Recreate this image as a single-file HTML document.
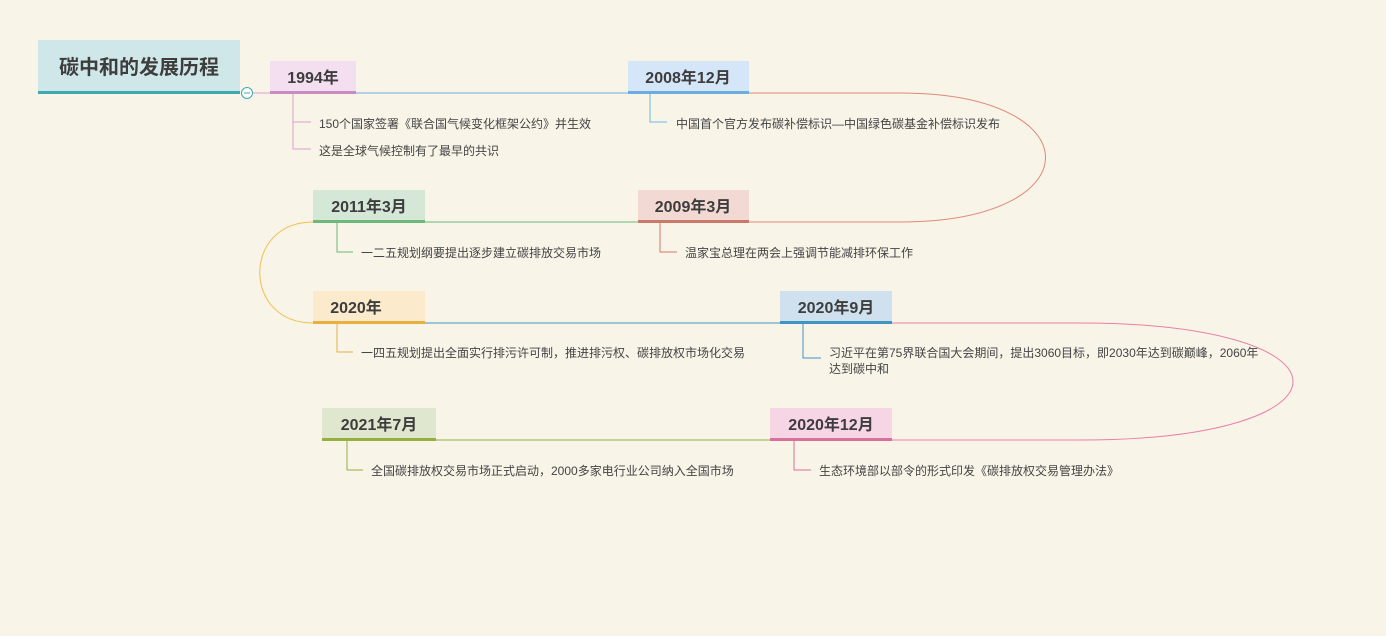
<!DOCTYPE html>
<html><head><meta charset="utf-8"><style>
html,body{margin:0;padding:0;background:#f8f4e8;}
svg{display:block}
text{font-family:"Liberation Sans","Noto Sans CJK SC",sans-serif;fill:#3d3d3d}
.h{font-size:16px;font-weight:bold;text-anchor:middle}
.c{font-size:12px;fill:#444}
</style></head><body>
<svg width="1386" height="636" viewBox="0 0 1386 636" xmlns="http://www.w3.org/2000/svg">
<rect width="1386" height="636" fill="#f8f4e8"/>
<rect x="38" y="40" width="202" height="53" fill="#d0e7ea"/>
<rect x="38" y="91" width="202" height="3" fill="#3fa9b0"/>
<text x="139" y="74" style="font-size:20px;font-weight:bold;text-anchor:middle">碳中和的发展历程</text>
<line x1="252" y1="93" x2="270" y2="93" stroke="#d9a0d0" stroke-width="1"/>
<circle cx="247" cy="93" r="5.5" fill="#fff" stroke="#3fa9b0" stroke-width="1"/>
<line x1="244" y1="93" x2="250" y2="93" stroke="#3fa9b0" stroke-width="1"/>
<line x1="356" y1="93" x2="628" y2="93" stroke="#6aaee0"/>
<path d="M749 93 H900 C1094 93 1094 222 900 222 H749" fill="none" stroke="#e08a78"/>
<line x1="425" y1="222" x2="638" y2="222" stroke="#6db97a"/>
<path d="M313 222 C242 222 242 323 313 323" fill="none" stroke="#f0c050"/>
<line x1="425" y1="323" x2="780" y2="323" stroke="#3f95c0"/>
<path d="M892 323 H1080 C1364 323 1364 440 1080 440 H892" fill="none" stroke="#e880a8"/>
<line x1="436" y1="440" x2="770" y2="440" stroke="#95b040"/>
<rect x="270" y="61" width="86" height="33" fill="#f3dff0"/><rect x="270" y="91" width="86" height="3" fill="#c98bc0"/>
<text class="h" x="313" y="83">1994年</text>
<rect x="628" y="61" width="121" height="33" fill="#d4e6f8"/><rect x="628" y="91" width="121" height="3" fill="#6aaee0"/>
<text class="h" x="688" y="83">2008年12月</text>
<rect x="638" y="190" width="111" height="33" fill="#f2d9d4"/><rect x="638" y="220" width="111" height="3" fill="#c9796a"/>
<text class="h" x="693" y="212">2009年3月</text>
<rect x="313" y="190" width="112" height="33" fill="#d5e8d8"/><rect x="313" y="220" width="112" height="3" fill="#6db97a"/>
<text class="h" x="369" y="212">2011年3月</text>
<rect x="313" y="291" width="112" height="33" fill="#fbeacc"/><rect x="313" y="321" width="112" height="3" fill="#e8b040"/>
<text class="h" x="356" y="313">2020年</text>
<rect x="780" y="291" width="112" height="33" fill="#cfe1ee"/><rect x="780" y="321" width="112" height="3" fill="#3f95c0"/>
<text class="h" x="836" y="313">2020年9月</text>
<rect x="770" y="408" width="122" height="33" fill="#f6d6e4"/><rect x="770" y="438" width="122" height="3" fill="#d7709a"/>
<text class="h" x="831" y="430">2020年12月</text>
<rect x="322" y="408" width="114" height="33" fill="#dfe7cf"/><rect x="322" y="438" width="114" height="3" fill="#95b040"/>
<text class="h" x="379" y="430">2021年7月</text>
<path d="M293 94 V149 H311 M293 122 H311" fill="none" stroke="#d9a0d0"/>
<text class="c" x="319" y="128">150个国家签署《联合国气候变化框架公约》并生效</text>
<text class="c" x="319" y="155">这是全球气候控制有了最早的共识</text>
<path d="M650 94 V122 H667" fill="none" stroke="#6ab8e8"/>
<text class="c" x="676" y="128">中国首个官方发布碳补偿标识—中国绿色碳基金补偿标识发布</text>
<path d="M660 223 V252 H677" fill="none" stroke="#d07a68"/>
<text class="c" x="685" y="257">温家宝总理在两会上强调节能减排环保工作</text>
<path d="M337 223 V252 H353" fill="none" stroke="#6db97a"/>
<text class="c" x="361" y="257">一二五规划纲要提出逐步建立碳排放交易市场</text>
<path d="M337 324 V352 H353" fill="none" stroke="#e8b040"/>
<text class="c" x="361" y="357">一四五规划提出全面实行排污许可制，推进排污权、碳排放权市场化交易</text>
<path d="M803 324 V358 H821" fill="none" stroke="#3f95c0"/>
<text class="c" x="829" y="357">习近平在第75界联合国大会期间，提出3060目标，即2030年达到碳巅峰，2060年</text>
<text class="c" x="829" y="373">达到碳中和</text>
<path d="M794 441 V470 H811" fill="none" stroke="#d7709a"/>
<text class="c" x="819" y="475">生态环境部以部令的形式印发《碳排放权交易管理办法》</text>
<path d="M347 441 V470 H363" fill="none" stroke="#95b040"/>
<text class="c" x="371" y="475">全国碳排放权交易市场正式启动，2000多家电行业公司纳入全国市场</text>
</svg>
</body></html>
